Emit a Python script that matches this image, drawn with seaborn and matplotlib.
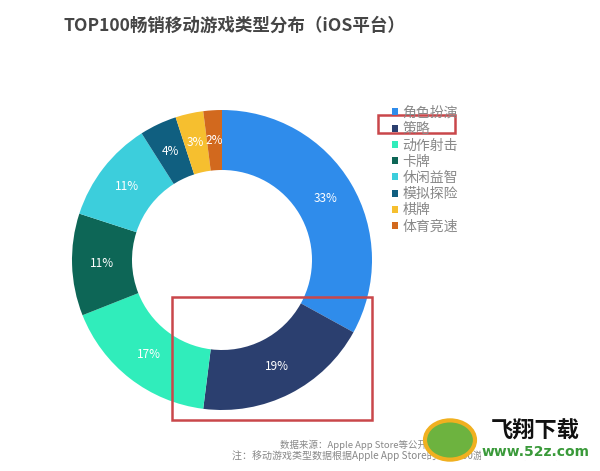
import matplotlib
matplotlib.use("Agg")
import matplotlib.pyplot as plt
import seaborn as sns
from matplotlib.patches import Rectangle, Circle

categories = ["角色扮演", "策略", "动作射击", "卡牌", "休闲益智", "模拟探险", "棋牌", "体育竞速"]
values = [33, 19, 17, 11, 11, 4, 3, 2]
colors = ["#2F8CEB", "#2B3F6F", "#30EDBB", "#0D6656", "#3CCEDC", "#105F80", "#F6BF2F", "#D2691E"]
title = "TOP100畅销移动游戏类型分布（iOS平台）"
source_lines = ["数据来源：Apple App Store等公开数据整理",
                "注：移动游戏类型数据根据Apple App Store的TOP100游戏类型进行分类统计"]

sns.set_theme(style="white")
plt.rcParams['font.family'] = ['Noto Sans CJK SC', 'DejaVu Sans']

W, H = 600, 471
fig = plt.figure(figsize=(6, 4.71), dpi=100)
fig.patch.set_facecolor("white")

def fx(px):
    return px / W

def fy(py):
    return 1 - py / H

cx, cy, r = 222, 260, 150
ax = fig.add_axes([fx(cx - r), fy(cy + r), 2 * r / W, 2 * r / H])
wedges, texts, autotexts = ax.pie(
    values, colors=colors, startangle=90, counterclock=False,
    radius=1.0, wedgeprops=dict(width=0.4, edgecolor="none"),
    autopct=lambda p: f"{p:.0f}%", pctdistance=0.8,
    textprops=dict(color="white", fontsize=8.5))
ax.set_xlim(-1, 1)
ax.set_ylim(-1, 1)
ax.set_aspect("equal")
ax.axis("off")

fig.text(fx(64), fy(26), title, fontsize=12.6, fontweight="bold",
         color="#454545", ha="left", va="center")

leg = fig.legend(wedges, categories, loc="upper left",
                 bbox_to_anchor=(fx(385), fy(99)), frameon=False,
                 fontsize=10, handlelength=0.4, handleheight=0.4,
                 handletextpad=0.35, labelspacing=0.16, borderpad=0)
for t in leg.get_texts():
    t.set_color("#888888")

# highlight rectangles
fig.patches.append(Rectangle((fx(378), fy(133)), (455 - 378) / W, (133 - 115) / H,
                             transform=fig.transFigure, fill=False,
                             edgecolor="#C9474A", linewidth=1.8))
fig.patches.append(Rectangle((fx(172), fy(420)), (372 - 172) / W, (420 - 297) / H,
                             transform=fig.transFigure, fill=False,
                             edgecolor="#C9474A", linewidth=1.8))

fig.text(fx(280), fy(445), source_lines[0], fontsize=6.8, color="#888888",
         ha="left", va="center")
fig.text(fx(232), fy(456), source_lines[1], fontsize=7.2, color="#888888",
         ha="left", va="center")

# watermark
wm = Circle((fx(450), fy(440)), 25 / W, transform=fig.transFigure,
            facecolor="#6DB33F", edgecolor="#F0B020", linewidth=3, zorder=5)
fig.patches.append(wm)
fig.text(fx(535), fy(431), "飞翔下载", fontsize=16, fontweight="bold",
         color="#111111", ha="center", va="center", zorder=6,
         bbox=dict(facecolor="white", edgecolor="none", pad=0))
fig.text(fx(536), fy(452), "www.52z.com", fontsize=10, fontweight="bold",
         color="#3A9A3A", ha="center", va="center", family="DejaVu Sans", zorder=6,
         bbox=dict(facecolor="white", edgecolor="none", pad=0.5))

fig.savefig("out.png", dpi=100, facecolor="white")
